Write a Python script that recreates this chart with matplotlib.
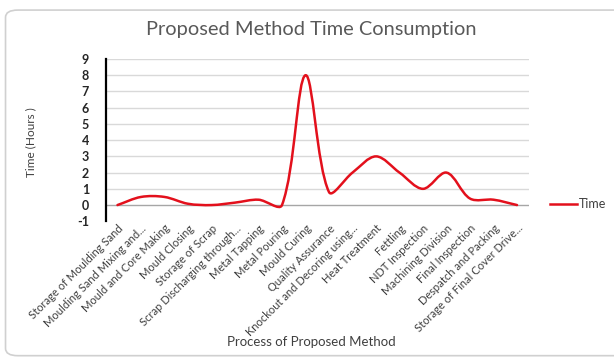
import numpy as np
import matplotlib
matplotlib.use("Agg")
import matplotlib.pyplot as plt
from matplotlib.path import Path
from matplotlib.patches import PathPatch, FancyBboxPatch
from matplotlib.lines import Line2D

plt.rcParams['font.family'] = ['Lato', 'DejaVu Sans']

processes = [
    "Storage of Moulding Sand",
    "Moulding Sand Mixing and...",
    "Mould and Core Making",
    "Mould Closing",
    "Storage of Scrap",
    "Scrap Discharging through...",
    "Metal Tapping",
    "Metal Pouring",
    "Mould Curing",
    "Quality Assurance",
    "Knockout and Decoring using...",
    "Heat Treatment",
    "Fettling",
    "NDT Inspection",
    "Machining Division",
    "Final Inspection",
    "Despatch and Packing",
    "Storage of Final Cover Drive...",
]
time_hours = [0, 0.5, 0.5, 0.08, 0, 0.15, 0.33, 0, 8, 0.8, 2, 3, 2, 1, 2, 0.4, 0.33, 0]
y_ticks = [-1, 0, 1, 2, 3, 4, 5, 6, 7, 8, 9]

W, H = 614, 360
fig = plt.figure(figsize=(W / 100, H / 100), dpi=100)
fig.patch.set_facecolor("white")

# chart-area frame
frame = FancyBboxPatch((0.009, 0.012), 1.2, 0.96, boxstyle="round,pad=0,rounding_size=0.02",
                       transform=fig.transFigure, facecolor="none", edgecolor="#d0d0d0",
                       linewidth=1.2, zorder=-1)
fig.patches.append(frame)

ax = fig.add_axes([0.1722, 0.3853, 0.689, 0.4508])
ax.set_facecolor("none")
n = len(processes)
ax.set_xlim(-0.5, n - 0.5)
ax.set_ylim(-1, 9)

for y in y_ticks:
    if y == -1:
        continue
    ax.axhline(y, color="#a6a6a6" if y == 0 else "#d9d9d9", linewidth=1.0, zorder=1)

for s in ["top", "right", "bottom"]:
    ax.spines[s].set_visible(False)
ax.spines["left"].set_color("#000000")
ax.spines["left"].set_linewidth(1.6)

ax.set_yticks(y_ticks)
ax.set_yticklabels([str(v) for v in y_ticks], fontsize=9, color="#262626", fontweight="bold")
ax.tick_params(axis="y", length=0, pad=12)

ax.set_xticks(range(n))
ax.set_xticklabels(processes, rotation=45, ha="right", va="top", rotation_mode="anchor",
                   fontsize=8.0, color="#404040")
ax.tick_params(axis="x", length=0, pad=1)

# smoothed line: cubic Bezier through each data point, control arms scaled
# by the on-screen lengths of the neighbouring segments
fig.canvas.draw()
pts = ax.transData.transform(np.column_stack([np.arange(n), time_hours]))
seg = np.hypot(*np.diff(pts, axis=0).T)
tang = np.zeros_like(pts)
tang[1:-1] = pts[2:] - pts[:-2]
tang[0] = pts[1] - pts[0]
tang[-1] = pts[-1] - pts[-2]
verts = [pts[0]]
codes = [Path.MOVETO]
for i in range(n - 1):
    if 0 < i:
        a = seg[i] / (seg[i - 1] + seg[i]) / 3.0
    else:
        a = 1 / 3.0
    if i + 1 < n - 1:
        b = seg[i] / (seg[i] + seg[i + 1]) / 3.0
    else:
        b = 1 / 3.0
    c1 = pts[i] + tang[i] * a
    c2 = pts[i + 1] - tang[i + 1] * b
    verts += [c1, c2, pts[i + 1]]
    codes += [Path.CURVE4] * 3
curve = Path(verts, codes)
data_curve = ax.transData.inverted().transform_path(curve)
ax.add_patch(PathPatch(data_curve, facecolor="none", edgecolor="#e3101c",
                       linewidth=1.8, zorder=3, capstyle="round", joinstyle="round"))

fig.text(311 / W, 1 - 30 / H, "Proposed Method Time Consumption", fontsize=14.4,
         color="#595959", ha="center", va="center")
fig.text(311 / W, 1 - 342 / H, "Process of Proposed Method", fontsize=9.5,
         color="#404040", ha="center", va="center")
fig.text(30.5 / W, 1 - 142 / H, "Time (Hours )", fontsize=8.5, color="#404040",
         ha="center", va="center", rotation=90)

# legend
fig.lines.append(Line2D([550 / W, 577 / W], [1 - 204 / H, 1 - 204 / H],
                        transform=fig.transFigure, color="#e3101c", linewidth=1.8))
fig.text(579 / W, 1 - 204 / H, "Time", fontsize=9, color="#404040", ha="left", va="center")

fig.savefig("out.png", dpi=100)
